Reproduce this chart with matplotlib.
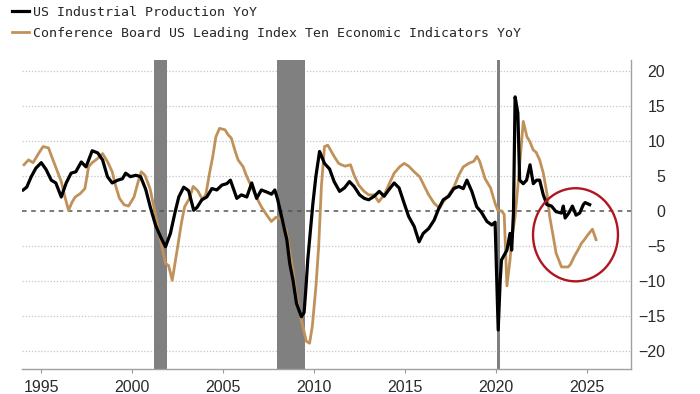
#!/usr/bin/env python3
# -*- coding: utf-8 -*-

"""US industrial production vs Conference Board LEI, YoY."""

import matplotlib
matplotlib.use("Agg")
import matplotlib.pyplot as plt
from matplotlib.patches import Ellipse

# US Industrial Production YoY (%), decimal years
ip_years = [1994.0, 1994.2, 1994.45, 1994.7, 1995.0, 1995.27, 1995.55, 1995.8,
            1996.1, 1996.37, 1996.64, 1996.9, 1997.2, 1997.46, 1997.8, 1998.1,
            1998.37, 1998.64, 1998.9, 1999.2, 1999.46, 1999.64, 1999.9, 2000.2,
            2000.46, 2000.74, 2001.0, 2001.28, 2001.56, 2001.83, 2002.1, 2002.38,
            2002.56, 2002.83, 2003.1, 2003.38, 2003.56, 2003.83, 2004.1, 2004.38,
            2004.65, 2004.93, 2005.2, 2005.4, 2005.56, 2005.75, 2006.0, 2006.3,
            2006.57, 2006.84, 2007.1, 2007.4, 2007.66, 2007.84, 2008.0, 2008.3,
            2008.5, 2008.66, 2008.84, 2009.03, 2009.3, 2009.45, 2009.55, 2009.65,
            2009.93, 2010.1, 2010.3, 2010.57, 2010.85, 2011.1, 2011.4, 2011.67,
            2011.94, 2012.2, 2012.5, 2012.76, 2013.0, 2013.3, 2013.58, 2013.85,
            2014.1, 2014.4, 2014.67, 2014.95, 2015.2, 2015.5, 2015.77, 2016.0,
            2016.3, 2016.6, 2016.86, 2017.1, 2017.4, 2017.68, 2017.95, 2018.2,
            2018.4, 2018.67, 2018.94, 2019.2, 2019.5, 2019.77, 2019.95, 2020.05,
            2020.12, 2020.23, 2020.3, 2020.6, 2020.77, 2020.86, 2020.96, 2021.05,
            2021.2, 2021.3, 2021.5, 2021.68, 2021.87, 2022.05, 2022.23, 2022.4,
            2022.6, 2022.8, 2023.05, 2023.3, 2023.6, 2023.7, 2023.8, 2024.0,
            2024.2, 2024.4, 2024.6, 2024.8, 2024.9, 2025.15]
ip_values = [3.0, 3.4, 4.9, 6.1, 6.9, 5.9, 4.4, 4.0,
             2.0, 4.0, 5.4, 5.6, 7.0, 6.3, 8.6, 8.3,
             7.3, 4.9, 4.0, 4.4, 4.6, 5.4, 4.9, 5.1,
             4.9, 3.1, 0.5, -2.0, -3.7, -5.1, -3.2, 0.1,
             2.0, 3.4, 2.9, 0.1, 0.5, 1.6, 2.0, 3.2,
             3.0, 3.7, 3.9, 4.4, 3.2, 1.8, 2.3, 2.0,
             4.0, 1.8, 3.0, 2.7, 2.4, 3.0, 1.6, -1.8,
             -4.1, -7.5, -9.9, -13.2, -15.1, -14.5, -11.0, -7.0,
             1.0, 5.0, 8.5, 6.8, 6.0, 4.2, 2.8, 3.3,
             4.2, 3.5, 2.3, 1.8, 1.6, 2.1, 2.8, 2.1,
             3.0, 4.0, 3.3, 1.1, -0.8, -2.2, -4.4, -3.2,
             -2.5, -1.3, 0.4, 1.6, 2.1, 3.2, 3.5, 3.2,
             4.4, 2.8, 0.6, -0.2, -1.5, -2.0, -1.6, -10.8,
             -17.0, -9.9, -7.0, -5.6, -3.2, -5.6, -0.3, 16.3,
             14.0, 4.4, 3.9, 4.4, 6.6, 3.9, 4.4, 4.4,
             2.3, 0.9, 0.7, -0.1, -0.3, 0.7, -1.0, -0.3,
             0.7, -0.6, -0.3, 0.9, 1.2, 0.9]

# Conference Board US Leading Index YoY (%), decimal years
lei_years = [1994.05, 1994.3, 1994.55, 1994.85, 1995.1, 1995.4, 1995.57, 1995.85,
             1996.1, 1996.3, 1996.5, 1996.7, 1996.87, 1997.15, 1997.4, 1997.6,
             1997.8, 1998.1, 1998.37, 1998.65, 1998.9, 1999.1, 1999.3, 1999.55,
             1999.8, 2000.1, 2000.35, 2000.5, 2000.7, 2000.98, 2001.26, 2001.55,
             2001.83, 2002.0, 2002.2, 2002.5, 2002.7, 2002.88, 2003.15, 2003.35,
             2003.6, 2003.87, 2004.05, 2004.25, 2004.43, 2004.6, 2004.8, 2005.1,
             2005.27, 2005.45, 2005.64, 2005.82, 2006.1, 2006.27, 2006.55, 2006.82,
             2007.1, 2007.4, 2007.65, 2007.9, 2008.2, 2008.46, 2008.65, 2008.83,
             2009.0, 2009.3, 2009.57, 2009.75, 2009.9, 2010.1, 2010.25, 2010.4,
             2010.57, 2010.75, 2011.1, 2011.35, 2011.5, 2011.7, 2012.0, 2012.2,
             2012.45, 2012.75, 2013.0, 2013.3, 2013.55, 2013.85, 2014.1, 2014.4,
             2014.7, 2014.95, 2015.2, 2015.5, 2015.8, 2016.07, 2016.3, 2016.6,
             2016.9, 2017.1, 2017.4, 2017.7, 2017.95, 2018.2, 2018.5, 2018.78,
             2018.95, 2019.1, 2019.4, 2019.7, 2019.96, 2020.1, 2020.3, 2020.45,
             2020.6, 2020.77, 2020.86, 2021.05, 2021.2, 2021.4, 2021.5, 2021.7,
             2021.86, 2022.05, 2022.2, 2022.4, 2022.6, 2022.8, 2022.95, 2023.15,
             2023.3, 2023.6, 2023.97, 2024.1, 2024.3, 2024.5, 2024.7, 2024.86,
             2025.05, 2025.3, 2025.5]
lei_values = [6.6, 7.3, 6.9, 8.2, 9.2, 9.0, 7.8, 5.9,
              4.2, 2.0, 0.1, 1.3, 2.0, 2.5, 3.2, 6.3,
              6.9, 7.5, 8.2, 7.0, 5.6, 3.5, 1.8, 0.9,
              0.7, 2.0, 4.4, 5.6, 5.1, 3.2, -0.3, -4.1,
              -7.5, -7.8, -9.9, -5.1, -1.8, 0.6, 1.8, 3.5,
              2.9, 1.6, 2.4, 5.4, 7.8, 10.6, 11.8, 11.6,
              10.9, 10.4, 8.7, 7.3, 6.3, 5.1, 3.5, 2.0,
              0.6, -0.6, -1.5, -0.9, -1.2, -2.7, -5.6, -8.4,
              -11.8, -15.6, -18.6, -18.9, -16.5, -10.8, -5.1, 3.5,
              9.2, 9.4, 7.8, 6.8, 6.6, 6.4, 6.6, 5.1,
              3.7, 2.8, 2.3, 2.3, 1.3, 2.3, 3.7, 5.4,
              6.3, 6.8, 6.4, 5.6, 4.9, 3.5, 2.3, 1.1,
              0.4, 1.3, 2.3, 3.5, 5.1, 6.3, 6.8, 7.1,
              7.8, 7.1, 4.6, 3.3, 1.0, 0.1, 0.0, -0.5,
              -10.7, -7.0, -4.1, -0.8, 3.5, 9.7, 12.8, 10.6,
              9.9, 8.7, 8.4, 7.3, 5.4, 2.5, -0.8, -3.7,
              -6.0, -8.0, -8.0, -7.6, -6.5, -5.6, -4.6, -4.1,
              -3.4, -2.6, -4.1]

# NBER recessions
recession_starts = [2001.2, 2007.95, 2020.05]
recession_ends = [2001.9, 2009.5, 2020.2]

x_ticks = [1995, 2000, 2005, 2010, 2015, 2020, 2025]
y_ticks = [-20, -15, -10, -5, 0, 5, 10, 15, 20]

IP_LABEL = "US Industrial Production YoY"
LEI_LABEL = "Conference Board US Leading Index Ten Economic Indicators YoY"

TAN = "#C0925A"
TICK_FONT = ["Liberation Sans Narrow", "Liberation Sans", "DejaVu Sans"]


def draw_chart():
    """Draws the chart and saves it."""
    fig = plt.figure(figsize=(7.0, 3.94), dpi=100)
    ax = fig.add_axes([0.0314, 0.0635, 0.870, 0.7843])

    for start, end in zip(recession_starts, recession_ends):
        ax.axvspan(start, end, color="#808080", lw=0, zorder=1)

    for y in y_ticks:
        if y == 0:
            ax.axhline(0, color="#555555", lw=1.1, ls=(0, (3, 3)), zorder=2)
        else:
            ax.axhline(y, color="#c4c4c4", lw=0.9, ls=(0, (1, 1.5)), zorder=0)

    ax.plot(lei_years, lei_values, color=TAN, lw=2.0, zorder=3, label=LEI_LABEL)
    ax.plot(ip_years, ip_values, color="black", lw=2.3, zorder=4, label=IP_LABEL)

    ax.add_patch(Ellipse((2024.37, -3.4), 4.67, 13.3, fill=False,
                         edgecolor="#B0161E", lw=1.7, zorder=5))

    ax.set_xlim(1993.94, 2027.42)
    ax.set_ylim(-22.57, 21.57)

    ax.set_xticks(x_ticks)
    ax.set_yticks(y_ticks)
    ax.yaxis.tick_right()
    ax.tick_params(axis="y", length=0, pad=24.5, labelsize=11.5,
                   labelcolor="#2b2b2b")
    ax.tick_params(axis="x", length=3, color="#999999", labelsize=11.5,
                   labelcolor="#2b2b2b", pad=5)
    for lbl in ax.get_yticklabels():
        lbl.set_horizontalalignment("right")
        lbl.set_family(TICK_FONT)
    for lbl in ax.get_xticklabels():
        lbl.set_family(TICK_FONT)

    for side in ("left", "top"):
        ax.spines[side].set_visible(False)
    for side in ("bottom", "right"):
        ax.spines[side].set_color("#a0a0a0")
        ax.spines[side].set_linewidth(1.0)

    handles, labels = ax.get_legend_handles_labels()
    fig.legend(handles[::-1], labels[::-1], loc="upper left",
               bbox_to_anchor=(0.009, 1.0), frameon=False,
               prop={"family": "DejaVu Sans Mono", "size": 9.5},
               labelcolor="#262626", handlelength=1.25, handletextpad=0.3,
               labelspacing=0.62, borderpad=0.45, borderaxespad=0.0)

    fig.savefig("out.png", dpi=100)


def main():
    """Main function."""
    draw_chart()


if __name__ == "__main__":
    main()
